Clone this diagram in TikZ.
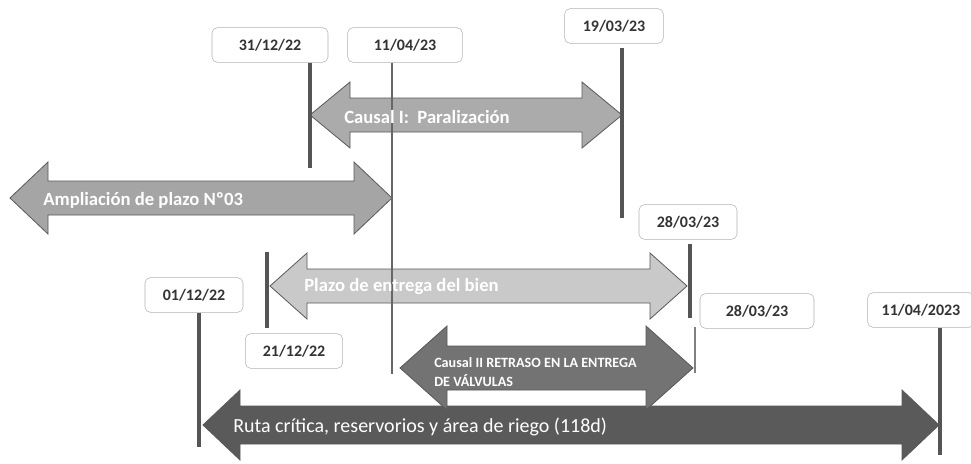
\documentclass[tikz,border=0pt]{standalone}
\usepackage{fontspec}
\setmainfont{Carlito}
\usepackage{tikz}

\definecolor{ampgray}{HTML}{A5A5A5}
\definecolor{cauonegray}{HTML}{ABABAB}
\definecolor{plazogray}{HTML}{C9C9C9}
\definecolor{cautwogray}{HTML}{737373}
\definecolor{rutagray}{HTML}{5A5A5A}
\definecolor{tickgray}{HTML}{555555}

\tikzset{
  datebox/.style={draw=gray!60, fill=white, rounded corners=4pt, minimum height=26pt,
    inner sep=0.75pt, text=black!80, font=\fontsize{12}{14}\selectfont\bfseries},
  bigarrow/.style={draw=gray!70!black, line width=0.6pt},
  arrowtext/.style={anchor=west, inner sep=0.75pt, text=white},
  tickline/.style={draw=tickgray, line width=2.8pt},
  thinline/.style={draw=gray!80!black, line width=1pt},
}

\begin{document}
\begin{tikzpicture}[x=0.75pt,y=0.75pt,yscale=-1,xscale=1]
\useasboundingbox (0,0) rectangle (971,464);

%Shape: Left-Right Arrow (Ruta critica)
\draw [bigarrow, fill=rutagray] (203,425) -- (240,390) -- (240,406) -- (902,406) -- (902,390) -- (939,425) -- (902,460) -- (902,444) -- (240,444) -- (240,460) -- cycle ;
%Shape: Left-Right Arrow (Causal II)
\draw [bigarrow, fill=cautwogray] (400,368) -- (447,326) -- (447,346) -- (646,346) -- (646,326) -- (693,368) -- (646,410) -- (646,390) -- (447,390) -- (447,410) -- cycle ;
%Shape: Left-Right Arrow (Plazo)
\draw [bigarrow, fill=plazogray] (270,286) -- (307,253) -- (307,269) -- (650,269) -- (650,253) -- (687,286) -- (650,319) -- (650,303) -- (307,303) -- (307,319) -- cycle ;
%Shape: Left-Right Arrow (Ampliacion)
\draw [bigarrow, fill=ampgray] (10,198) -- (48,162) -- (48,181) -- (354,181) -- (354,162) -- (392,198) -- (354,234) -- (354,215) -- (48,215) -- (48,234) -- cycle ;
%Shape: Left-Right Arrow (Causal I)
\draw [bigarrow, fill=cauonegray] (310,115) -- (350,82) -- (350,98) -- (582,98) -- (582,82) -- (622,115) -- (582,148) -- (582,132) -- (350,132) -- (350,148) -- cycle ;

% Date Node
\draw (270,45) node [datebox, minimum width=87pt] (d1) {31/12/22};
% Date Node
\draw (405,45) node [datebox, minimum width=86pt] (d2) {11/04/23};
% Date Node
\draw (614,26) node [datebox, minimum width=74pt] (d3) {19/03/23};
% Date Node
\draw (688,222) node [datebox, minimum width=73.5pt] (d4) {28/03/23};
% Date Node
\draw (194,295) node [datebox, minimum width=73.5pt] (d5) {01/12/22};
% Date Node
\draw (294,351) node [datebox, minimum width=73pt] (d6) {21/12/22};
% Date Node
\draw (757,311) node [datebox, minimum width=85.5pt] (d7) {28/03/23};
% Date Node
\draw (921,310) node [datebox, minimum width=80pt] (d8) {11/04/2023};

%Straight Lines
\coordinate (b1) at (310,168);
\draw [tickline] (d1.south -| b1) -- (b1) ;
%Straight Lines
\coordinate (b2) at (392,374);
\draw [thinline] (d2.south -| b2) -- (b2) ;
%Straight Lines
\coordinate (b3) at (622,218);
\draw [tickline, shorten <=3pt] (d3.south -| b3) -- (b3) ;
%Straight Lines
\coordinate (t4) at (267,252);
\draw [tickline, shorten <=4pt] (d6.north -| t4) -- (t4) ;
%Straight Lines
\coordinate (b5) at (690,318);
\draw [tickline, shorten <=3pt] (d4.south -| b5) -- (b5) ;
%Straight Lines
\coordinate (t6) at (695,327);
\coordinate (b6) at (695,373);
\draw [tickline, draw=gray, line width=2pt] (t6) -- (b6) ;
%Straight Lines
\coordinate (b7) at (199,447);
\draw [tickline] (d5.south -| b7) -- (b7) ;
%Straight Lines
\coordinate (b8) at (940,455);
\draw [tickline] (d8.south -| b8) -- (b8) ;

% Text Node
\draw (343,117) node [arrowtext, font=\fontsize{14}{16}\selectfont\bfseries] (tcone) {Causal I:\ \ Paralización};
% Text Node
\draw (42,200) node [arrowtext, font=\fontsize{14}{16}\selectfont\bfseries] (tamp) {Ampliación de plazo Nº03};
% Text Node
\draw (303,287) node [arrowtext, font=\fontsize{14}{16}\selectfont\bfseries] (tplazo) {Plazo de entrega del bien};
% Text Node
\draw (433,372) node [arrowtext, align=left, font=\fontsize{10.6}{14}\selectfont\bfseries] (tctwo) {Causal II RETRASO EN LA ENTREGA\\DE VÁLVULAS};
% Text Node
\draw (232,427) node [arrowtext, font=\fontsize{15}{17}\selectfont] (truta) {Ruta crítica, reservorios y área de riego (118d)};

\end{tikzpicture}
\end{document}
